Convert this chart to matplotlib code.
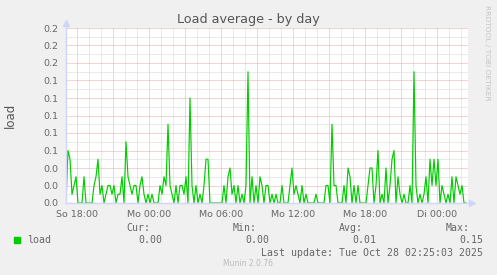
import numpy as np
import matplotlib
matplotlib.use("Agg")
import matplotlib.pyplot as plt
from matplotlib.ticker import FixedLocator, MultipleLocator, FuncFormatter
from matplotlib.lines import Line2D

# ---------------- data ----------------
start_hour = 17 + 5 / 60          # Sunday 17:05 (hours since Sunday 00:00)
step_hours = 10 / 60              # one sample every 10 minutes
load = [
    0.00, 0.06, 0.05, 0.01, 0.02, 0.03, 0.00, 0.00, 0.00, 0.03,
    0.00, 0.00, 0.00, 0.00, 0.02, 0.03, 0.05, 0.01, 0.02, 0.00,
    0.01, 0.02, 0.02, 0.01, 0.02, 0.00, 0.01, 0.01, 0.03, 0.00,
    0.07, 0.03, 0.02, 0.01, 0.02, 0.02, 0.00, 0.02, 0.03, 0.01,
    0.00, 0.01, 0.00, 0.01, 0.00, 0.00, 0.00, 0.02, 0.01, 0.03,
    0.02, 0.09, 0.02, 0.01, 0.00, 0.02, 0.00, 0.02, 0.02, 0.01,
    0.03, 0.00, 0.12, 0.02, 0.00, 0.02, 0.00, 0.01, 0.00, 0.02,
    0.05, 0.05, 0.00, 0.00, 0.00, 0.00, 0.00, 0.00, 0.00, 0.02,
    0.00, 0.03, 0.04, 0.01, 0.02, 0.00, 0.02, 0.00, 0.01, 0.00,
    0.02, 0.15, 0.00, 0.03, 0.00, 0.02, 0.00, 0.03, 0.02, 0.00,
    0.02, 0.02, 0.00, 0.01, 0.00, 0.01, 0.00, 0.00, 0.02, 0.00,
    0.00, 0.00, 0.02, 0.04, 0.01, 0.02, 0.01, 0.00, 0.02, 0.00,
    0.01, 0.00, 0.00, 0.00, 0.00, 0.01, 0.00, 0.00, 0.00, 0.00,
    0.02, 0.02, 0.00, 0.09, 0.02, 0.02, 0.00, 0.00, 0.00, 0.02,
    0.00, 0.04, 0.03, 0.00, 0.02, 0.00, 0.02, 0.00, 0.00, 0.00,
    0.00, 0.02, 0.04, 0.04, 0.00, 0.02, 0.06, 0.00, 0.01, 0.00,
    0.04, 0.00, 0.02, 0.05, 0.06, 0.00, 0.03, 0.01, 0.00, 0.01,
    0.00, 0.00, 0.02, 0.00, 0.15, 0.02, 0.00, 0.01, 0.00, 0.01,
    0.03, 0.00, 0.05, 0.02, 0.05, 0.02, 0.05, 0.00, 0.02, 0.01,
    0.00, 0.01, 0.00, 0.03, 0.00, 0.03, 0.02, 0.01, 0.02, 0.00,
    0.00,
]
tick_hours = [18, 24, 30, 36, 42, 48]
tick_labels = ["So 18:00", "Mo 00:00", "Mo 06:00", "Mo 12:00", "Mo 18:00", "Di 00:00"]
x_range = (17 + 5 / 60, 50 + 35 / 60)
y_range = (0.0, 0.2)

series_name = "load"
stat_names = ["Cur:", "Min:", "Avg:", "Max:"]
stat_values = ["0.00", "0.00", "0.01", "0.15"]
last_update = "Last update: Tue Oct 28 02:25:03 2025"
title = "Load average - by day"
y_label = "load"
watermark = "RRDTOOL / TOBI OETIKER"
footer = "Munin 2.0.76"

# ---------------- figure ----------------
W, H = 497, 275
fig = plt.figure(figsize=(W / 100, H / 100), dpi=100, facecolor="#F0F0F0")

def fx(x):
    return x / W

def fy(y):
    return 1 - y / H

L, R, T, B = 66, 468, 28, 203
ax = fig.add_axes([fx(L), fy(B), (R - L) / W, (B - T) / H])
ax.set_facecolor("white")

times = start_hour + step_hours * np.arange(len(load))
ax.plot(times, load, color="#00CC00", lw=0.85, zorder=3)

ax.set_xlim(*x_range)
ax.set_ylim(*y_range)

label_map = dict(zip(tick_hours, tick_labels))
ax.xaxis.set_major_locator(FixedLocator(np.arange(18, 51, 3)))
ax.xaxis.set_major_formatter(FuncFormatter(lambda v, p: label_map.get(int(round(v)), "")))
ax.xaxis.set_minor_locator(MultipleLocator(1))
ax.yaxis.set_major_locator(MultipleLocator(0.02))
ax.yaxis.set_major_formatter(FuncFormatter(lambda v, p: f"{v:.1f}"))
ax.yaxis.set_minor_locator(MultipleLocator(0.01))

grid_kw = dict(linestyle=(0, (1, 1)), linewidth=0.72)
ax.grid(True, which="major", color="#EBA8A8", **grid_kw)
ax.grid(True, which="minor", color="#D6D6D6", **grid_kw)
ax.set_axisbelow(True)

for s in ax.spines.values():
    s.set_visible(False)

ax.tick_params(axis="both", which="both", length=0, colors="#666666", labelsize=6.8)
ax.tick_params(axis="x", pad=5)
ax.tick_params(axis="y", pad=5.5)

# axes with arrows (rrdtool style)
axis_col = "#CFD6F8"
fig.add_artist(Line2D([fx(L), fx(L)], [fy(B), fy(24)], color=axis_col, lw=1.0))
fig.add_artist(Line2D([fx(L), fx(472)], [fy(B), fy(B)], color=axis_col, lw=1.0))
fig.add_artist(Line2D([fx(L)], [fy(23)], marker="^", color=axis_col, markersize=5, lw=0))
fig.add_artist(Line2D([fx(472)], [fy(B)], marker=">", color=axis_col, markersize=5, lw=0))

txt = "#666666"
fig.text(fx(248), fy(19), title, ha="center", va="center", fontsize=9.2, color="#555555")
fig.text(fx(10), fy(115), y_label, ha="center", va="center", rotation=90, fontsize=8.5, color="#555555")
fig.text(fx(487), fy(5), watermark, ha="center", va="top", rotation=270, fontsize=5.4, color="#C4C4C4")

mono = "DejaVu Sans Mono"
stat_right_x = [150, 257, 363, 470]
val_right_x = [162, 269, 376, 483]
for name, xr in zip(stat_names, stat_right_x):
    fig.text(fx(xr), fy(228), name, ha="right", va="center", fontsize=7.1, family=mono, color=txt)
for val, xr in zip(stat_values, val_right_x):
    fig.text(fx(xr), fy(240), val, ha="right", va="center", fontsize=7.1, family=mono, color=txt)

fig.add_artist(Line2D([fx(16.5)], [fy(240)], marker="s", markersize=4.6, color="#00CC00", lw=0))
fig.text(fx(27), fy(240), series_name, ha="left", va="center", fontsize=7.1, family=mono, color=txt)
fig.text(fx(483), fy(252.5), last_update, ha="right", va="center", fontsize=7.1, family=mono, color=txt)
fig.text(fx(248), fy(264), footer, ha="center", va="center", fontsize=5.5, color="#BBBBBB")

fig.savefig("out.png", dpi=100, facecolor=fig.get_facecolor())
